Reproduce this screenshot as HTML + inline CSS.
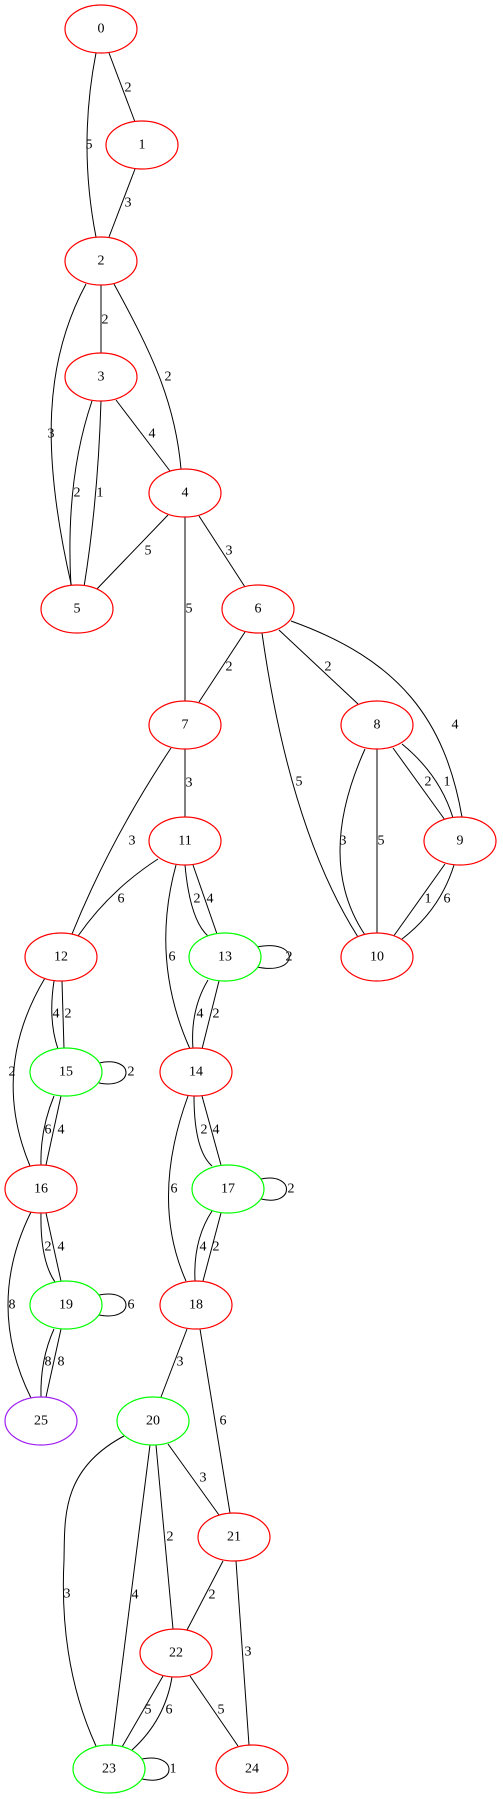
<!DOCTYPE html>
<html><head><meta charset="utf-8"><style>html,body{margin:0;padding:0;background:#fff}svg{display:block}</style></head>
<body>
<svg width="503" height="1799" viewBox="0 0 503 1799" xmlns="http://www.w3.org/2000/svg" font-family="Liberation Serif, serif" font-size="14">
<g fill="none" stroke="#000" stroke-width="1">
<path d="M109,53 L135,122"/>
<path d="M96,53 Q78,145 96,237"/>
<path d="M135,169 L109,237"/>
<path d="M101,285 L101,353"/>
<path d="M86,284 C45,360 40,450 72,588"/>
<path d="M114,284 C150,350 175,400 181,469"/>
<path d="M92,401 Q65,480 71,587"/>
<path d="M101,401 Q98,500 84,587"/>
<path d="M116,400 L170,471"/>
<path d="M168,515 L95,591"/>
<path d="M185,517 L185,701"/>
<path d="M199,516 L245,587"/>
<path d="M245,632 L199,702"/>
<path d="M279,630 L358,704"/>
<path d="M262,633 Q290,830 358,937"/>
<path d="M291,621 C400,660 445,720 462,817"/>
<path d="M365,749 Q315,860 365,935"/>
<path d="M377,749 L377,933"/>
<path d="M393,748 L445,820"/>
<path d="M402,744 Q440,775 453,818"/>
<path d="M445,864 L393,937"/>
<path d="M454,865 Q440,910 402,939"/>
<path d="M185,749 L185,817"/>
<path d="M171,748 Q110,840 72,934"/>
<path d="M158,859 Q110,890 78,936"/>
<path d="M185,865 Q190,920 208,936"/>
<path d="M193,865 L217,934"/>
<path d="M176,865 Q150,960 190,1049"/>
<path d="M257,947 C300,938 300,976 257,967"/>
<path d="M208,980 Q190,1010 193,1049"/>
<path d="M219,981 L202,1049"/>
<path d="M54,981 Q48,1020 58,1049"/>
<path d="M62,981 L64,1049"/>
<path d="M45,978 Q-10,1070 30,1166"/>
<path d="M99,1063 C135,1055 135,1090 99,1083"/>
<path d="M54,1096 Q40,1130 41,1165"/>
<path d="M61,1096 L46,1165"/>
<path d="M194,1096 Q194,1150 212,1166"/>
<path d="M202,1096 L221,1165"/>
<path d="M188,1096 Q150,1200 186,1281"/>
<path d="M261,1179 C295,1172 295,1207 261,1199"/>
<path d="M212,1211 Q193,1240 195,1281"/>
<path d="M221,1213 L203,1281"/>
<path d="M41,1213 Q40,1260 55,1282"/>
<path d="M46,1213 L61,1281"/>
<path d="M31,1212 Q-15,1305 31,1398"/>
<path d="M99,1295 C135,1288 135,1322 99,1315"/>
<path d="M54,1329 Q40,1360 41,1397"/>
<path d="M61,1329 L46,1397"/>
<path d="M187,1329 L161,1397"/>
<path d="M200,1329 L230,1513"/>
<path d="M168,1444 L219,1515"/>
<path d="M156,1445 L173,1629"/>
<path d="M150,1445 L112,1745"/>
<path d="M124,1436 C60,1470 65,1520 64,1560 C60,1640 75,1700 96,1746"/>
<path d="M223,1561 L187,1630"/>
<path d="M236,1561 L249,1745"/>
<path d="M163,1676 L122,1747"/>
<path d="M172,1677 Q165,1720 132,1750"/>
<path d="M190,1676 L238,1746"/>
<path d="M142,1759 C178,1752 178,1787 142,1779"/>
</g>
<g fill="#fff" stroke-width="1.2">
<ellipse cx="101" cy="29" rx="36" ry="24" stroke="#f00"/>
<ellipse cx="142" cy="145" rx="36" ry="24" stroke="#f00"/>
<ellipse cx="101" cy="261" rx="36" ry="24" stroke="#f00"/>
<ellipse cx="101" cy="377" rx="36" ry="24" stroke="#f00"/>
<ellipse cx="185" cy="493" rx="36" ry="24" stroke="#f00"/>
<ellipse cx="77" cy="609" rx="36" ry="24" stroke="#f00"/>
<ellipse cx="258" cy="609" rx="36" ry="24" stroke="#f00"/>
<ellipse cx="185" cy="725" rx="36" ry="24" stroke="#f00"/>
<ellipse cx="377" cy="725" rx="36" ry="24" stroke="#f00"/>
<ellipse cx="460" cy="841" rx="36" ry="24" stroke="#f00"/>
<ellipse cx="185" cy="841" rx="36" ry="24" stroke="#f00"/>
<ellipse cx="61" cy="957" rx="36" ry="24" stroke="#f00"/>
<ellipse cx="225" cy="957" rx="36" ry="24" stroke="#0f0"/>
<ellipse cx="377" cy="957" rx="36" ry="24" stroke="#f00"/>
<ellipse cx="66" cy="1072" rx="36" ry="24" stroke="#0f0"/>
<ellipse cx="196" cy="1072" rx="36" ry="24" stroke="#f00"/>
<ellipse cx="41" cy="1189" rx="36" ry="24" stroke="#f00"/>
<ellipse cx="228" cy="1189" rx="36" ry="24" stroke="#0f0"/>
<ellipse cx="66" cy="1305" rx="36" ry="24" stroke="#0f0"/>
<ellipse cx="196" cy="1305" rx="36" ry="24" stroke="#f00"/>
<ellipse cx="41" cy="1421" rx="36" ry="24" stroke="#a020f0"/>
<ellipse cx="153" cy="1421" rx="36" ry="24" stroke="#0f0"/>
<ellipse cx="234" cy="1537" rx="36" ry="24" stroke="#f00"/>
<ellipse cx="176" cy="1653" rx="36" ry="24" stroke="#f00"/>
<ellipse cx="109" cy="1769" rx="36" ry="24" stroke="#0f0"/>
<ellipse cx="252" cy="1769" rx="36" ry="24" stroke="#f00"/>
</g>
<g fill="#000" text-anchor="middle" dominant-baseline="central">
<text x="101" y="29">0</text><text x="142" y="145">1</text><text x="101" y="261">2</text>
<text x="101" y="377">3</text><text x="185" y="493">4</text><text x="77" y="609">5</text>
<text x="258" y="609">6</text><text x="185" y="725">7</text><text x="377" y="725">8</text>
<text x="460" y="841">9</text><text x="185" y="841">11</text><text x="61" y="957">12</text>
<text x="225" y="957">13</text><text x="377" y="957">10</text><text x="66" y="1072">15</text>
<text x="196" y="1072">14</text><text x="41" y="1189">16</text><text x="228" y="1189">17</text>
<text x="66" y="1305">19</text><text x="196" y="1305">18</text><text x="41" y="1421">25</text>
<text x="153" y="1421">20</text><text x="234" y="1537">21</text><text x="176" y="1653">22</text>
<text x="109" y="1769">23</text><text x="252" y="1769">24</text>
<!-- edge labels -->
<text x="128" y="88">2</text><text x="89" y="145">5</text><text x="128" y="203">3</text>
<text x="105" y="320">2</text><text x="51" y="434">3</text><text x="168" y="377">2</text>
<text x="77" y="493">2</text><text x="100" y="493">1</text><text x="152" y="434">4</text>
<text x="148" y="551">5</text><text x="189" y="609">5</text><text x="229" y="551">3</text>
<text x="229" y="667">2</text><text x="328" y="667">2</text><text x="299" y="782">5</text>
<text x="455" y="725">4</text><text x="343" y="841">3</text><text x="381" y="841">5</text>
<text x="428" y="782">2</text><text x="447" y="782">1</text><text x="428" y="899">1</text>
<text x="447" y="899">6</text><text x="189" y="783">3</text><text x="132" y="841">3</text>
<text x="121" y="899">6</text><text x="197" y="899">2</text><text x="210" y="899">4</text>
<text x="172" y="957">6</text><text x="289" y="957">2</text><text x="200" y="1014">4</text>
<text x="216" y="1014">2</text><text x="56" y="1014">4</text><text x="68" y="1014">2</text>
<text x="12" y="1072">2</text><text x="131" y="1072">2</text><text x="48" y="1130">6</text>
<text x="61" y="1130">4</text><text x="204" y="1130">2</text><text x="216" y="1130">4</text>
<text x="174" y="1189">6</text><text x="291" y="1189">2</text><text x="203" y="1247">4</text>
<text x="216" y="1247">2</text><text x="48" y="1247">2</text><text x="61" y="1247">4</text>
<text x="12" y="1305">8</text><text x="131" y="1305">6</text><text x="48" y="1362">8</text>
<text x="61" y="1362">8</text><text x="180" y="1362">3</text><text x="223" y="1421">6</text>
<text x="203" y="1478">3</text><text x="170" y="1537">2</text><text x="135" y="1595">4</text>
<text x="67" y="1594">3</text><text x="212" y="1595">2</text><text x="248" y="1652">3</text>
<text x="148" y="1710">5</text><text x="169" y="1710">6</text><text x="221" y="1710">5</text>
<text x="173" y="1769">1</text>
</g>
</svg>
</body></html>
